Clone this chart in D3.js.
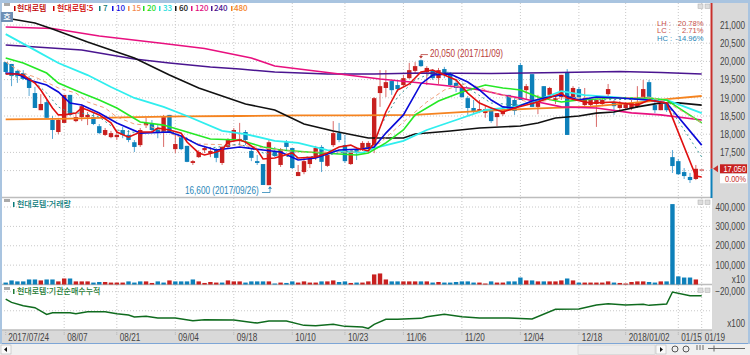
<!DOCTYPE html>
<html lang="ko">
<head>
<meta charset="utf-8">
<script src="https://d3js.org/d3.v7.min.js"></script>
<style>
  html, body { margin: 0; padding: 0; background: #f0f0f0; }
  svg { display: block; }
  text { font-family: "Liberation Sans", sans-serif; font-size: 10px; }
  .ko { font-family: "Noto Sans CJK KR", sans-serif; font-size: 8px; font-weight: 500; }
  .small { font-size: 7.6px; }
  .grid { stroke: #c8c8c8; stroke-width: 1; stroke-dasharray: 1 2; }
</style>
</head>
<body>
<div id="chart"></div>
<script>
// 가격 (일봉)
const opens = [19980,19930,19740,19680,19540,19130,18660,18880,18390,18060,
  18310,19080,18360,18470,18470,18470,18220,17980,17920,17920,
  18115,17980,17780,17700,18250,18280,18170,18060,18530,17590,
  17920,17680,17210,17370,17560,17480,17570,17210,17650,17870,
  17810,18060,17540,17260,17180,16600,17540,17155,17780,17620,
  16850,16960,17180,17350,17650,17130,17700,18030,17700,17180,
  17590,17565,17590,17700,19130,19270,19460,19350,19350,19540,
  19740,20030,19710,19740,19540,19790,19630,19410,19270,18990,
  18720,18610,18580,18690,18470,18550,19080,18940,19900,19210,
  19650,18750,19320,19080,18940,19020,19710,19020,19240,18800,
  18800,18830,18830,19100,18880,18720,18720,18720,18750,18990,
  19430,18800,18660,18830,17370,17260,16960,16825,16770,17030];
const highs = [19980,19930,19760,19760,19600,19300,19100,18940,18500,18450,
  19080,19080,18580,18830,18610,18610,18280,18170,18090,18115,
  18200,18115,17840,18170,18450,18390,18250,18530,18530,17980,
  17920,17680,17290,17560,17680,17650,17620,17680,17890,18170,
  18310,18115,17620,17430,17180,17840,17650,17620,17840,17620,
  17155,17350,17370,17680,17700,17510,18360,18310,17980,17560,
  17650,17810,17810,19020,19760,19760,19460,19460,19630,19960,
  19980,20050,19870,19790,19820,19850,19710,19520,19350,19050,
  18940,18940,18800,18750,18580,18720,19080,18990,19960,19380,
  19650,19080,19320,19300,19080,19630,19790,19320,19300,19270,
  18990,18940,18990,19380,18940,18910,18880,18940,19320,19490,
  19490,18880,18860,18860,17565,17320,17070,16935,17155,17030];
const lows = [19650,19320,19410,19490,19050,18720,18660,18450,17870,18000,
  18310,18500,18330,18360,18250,18250,18000,17950,17890,17840,
  17890,17780,17510,17650,18170,18030,17890,17650,18030,17480,
  17560,17230,17155,17350,17480,17370,17230,17155,17620,17780,
  17700,17700,17260,17155,16605,16600,17370,17100,17560,17040,
  16850,16900,17070,17290,16960,17100,17650,17780,17210,17155,
  17290,17540,17565,17480,18750,19020,19080,19160,19300,19520,
  19680,19850,19350,19490,19380,19540,19300,19160,18990,18530,
  18550,18580,18450,18310,18220,18500,18640,18530,18940,18940,
  18750,18550,18910,18940,18830,18940,17980,18940,18940,18750,
  18750,18200,18770,18990,18530,18660,18660,18660,18720,18970,
  18990,18580,18660,18610,16935,16880,16770,16660,16740,17030];
const closes = [19710,19600,19600,19520,19270,18720,18830,18450,18115,18390,
  19080,18530,18470,18770,18530,18280,18030,18115,18030,17980,
  17980,17840,17650,18115,18310,18115,18030,18470,18060,17730,
  17590,17240,17260,17510,17620,17540,17350,17650,17840,18115,
  17870,17840,17350,17210,16605,17780,17400,17590,17650,17070,
  16960,17260,17320,17620,17240,17430,18030,17840,17260,17540,
  17480,17760,17760,18990,19320,19430,19210,19240,19540,19760,
  19870,19870,19820,19540,19760,19680,19350,19270,19020,18720,
  18610,18690,18690,18360,18580,18660,18660,18640,18940,19320,
  18750,18940,18940,19270,18990,19630,17980,19270,19020,18990,
  18940,18940,18940,19240,18770,18830,18830,18860,18880,19240,
  18990,18660,18830,18660,17125,16900,16850,16740,17050,17030];

// 거래량
const volumes = [10000,21000,16000,16000,26000,26000,21000,26000,26000,16000,
  31000,31000,16000,16000,16000,10000,13000,13000,10000,10000,
  10000,16000,10000,16000,16000,8000,16000,10000,21000,16000,
  16000,16000,26000,16000,8000,13000,10000,10000,21000,16000,
  16000,10000,16000,16000,16000,16000,5000,10000,8000,16000,
  10000,16000,10000,10000,16000,16000,21000,13000,16000,8000,
  10000,10000,16000,52000,57000,26000,16000,16000,16000,16000,
  16000,16000,16000,10000,13000,10000,10000,13000,16000,16000,
  10000,10000,5000,16000,10000,10000,16000,16000,36000,21000,
  21000,16000,16000,16000,16000,21000,31000,21000,10000,10000,
  10000,10000,10000,16000,10000,8000,5000,13000,16000,16000,
  13000,10000,16000,16000,415000,42000,36000,36000,26000];
const volumeDirs = ("bbbbbbrbbr" + "rbrrrbbrrr" + "rbbbrrbbrb" + "bbbrrrrbrr" + "rbbbbrbrbb" + "rrrrbrrbbr" +
  "brrrrrbbrr" + "rbrbrbbbbb" + "brrbrrbbbr" + "brbrrrbrbr" + "rrrrbrrrrr" + "bbrbbbbbr").split("");

// 이동평균선 (그림에서 읽은 지점)
const ma5Days = [0,2,3,5,6,8,9,10,12,13,14,16,18,19,21,23,25,26,28,30,31,33,34,36,37,38,40,41,43,44,46,49,50,53,55,57,59,60,62,63,65,67,69,71,73,75,77,79,81,83,85,87,89,91,95,96,100,104,108,110,113,118,119];
const ma5 = [19655,19655,19625,19405,19215,18720,18530,18530,18580,18720,18665,18530,18310,18060,17920,18060,18060,18170,18115,18030,17785,17485,17430,17510,17565,17785,17840,17785,17565,17320,17345,17485,17345,17375,17485,17650,17700,17620,17540,17760,18610,19215,19380,19710,19765,19625,19490,19130,18855,18720,18610,18720,18800,18885,19130,18995,18855,18885,18800,18940,18855,16850,16825];
const ma7Days = [0,5,7,9,11,13,16,19,23,28,31,33,35,40,44,50,55,60,63,64,67,70,72,76,79,83,88,95,100,110,113,116,119];
const ma7 = [19655,19435,19130,18750,18580,18580,18470,18115,18030,18090,17895,17700,17620,17730,17485,17345,17430,17565,17700,18200,19020,19490,19625,19710,19270,18855,18800,19075,18940,18965,18855,18115,17375];
const ma10Days = [0,2,4,7,9,11,13,16,19,23,28,30,33,36,40,44,47,50,53,57,61,63,65,68,71,73,76,79,81,83,85,87,90,92,95,98,101,105,110,113,119];
const ma10 = [19680,19655,19490,19350,19160,18855,18800,18580,18310,18030,18060,17950,17700,17565,17650,17565,17510,17290,17345,17565,17595,17650,18030,18530,19380,19625,19655,19435,19215,18940,18750,18720,18910,18995,19075,18940,19020,18995,18940,18855,17700];
const ma15Days = [0,1,3,5,8,9,12,14,17,19,22,24,28,33,40,50,60,64,68,72,75,79,83,90,95,104,110,113,119];
const ma15 = [19985,19875,19680,19570,19350,19270,19130,18885,18720,18470,18280,18250,18030,17730,17700,17510,17510,17760,18335,18885,19215,19405,19160,18855,18995,18995,19020,18885,18310];
const ma20Days = [0,3,7,9,13,16,19,23,27,31,35,40,44,47,54,60,62,65,68,70,74,78,82,85,88,91,95,98,104,110,113,119];
const ma20 = [20095,19955,19680,19405,19130,18940,18720,18335,18250,18060,17870,17840,17650,17565,17485,17430,17485,17760,18115,18530,18910,19160,19350,19270,19215,19020,18885,18940,18995,18995,18940,18310];
const ma33Days = [0,5,9,14,18,22,27,31,37,41,46,50,55,61,63,68,72,77,82,87,91,95,99,104,110,113,119];
const ma33 = [20750,20310,19955,19625,19295,18995,18750,18500,18090,18005,17815,17760,17565,17485,17620,17815,18115,18390,18665,18750,18940,19185,19075,19020,18940,18940,18580];
const ma60Days = [0,2,5,8,14,22,28,33,41,46,51,56,62,65,68,70,76,81,88,91,94,98,101,104,108,112,115,119];
const ma60 = [21190,21135,21055,20890,20530,20095,19625,19270,18830,18665,18280,18090,17895,17895,17895,18005,18090,18170,18225,18310,18445,18500,18580,18610,18750,18860,18860,18800];
const ma120Days = [0,8,16,27,34,42,46,55,64,71,79,82,85,88,91,95,101,107,112,119];
const ma120 = [20945,20905,20700,20490,20355,20095,19875,19695,19515,19405,19270,19185,19075,18995,18885,18750,18720,18585,18530,18390];
const ma240Days = [0,13,22,28,35,40,46,55,63,71,83,95,105,112,119];
const ma240 = [20450,20310,20065,19955,19845,19790,19710,19655,19655,19680,19670,19695,19720,19695,19655];
const ma480Days = [0,9,20,30,40,50,60,70,80,90,100,110,113,119];
const ma480 = [18405,18420,18460,18490,18500,18515,18515,18530,18625,18705,18760,18900,18965,19050];

// 기관순매수누적
const instDays = [0,1,3,5,7,8,11,12,14,17,19,21,22,24,26,29,32,34,39,43,45,48,51,53,56,58,61,62,63,65,67,71,72,75,78,81,86,90,94,98,101,103,106,109,110,113,114,117,119];
const instNet = [-23850,-25600,-27350,-28400,-31900,-31025,-31025,-31550,-30500,-30500,-31550,-32250,-33300,-32950,-33825,-33825,-35225,-34700,-34875,-36450,-35400,-35400,-37675,-37850,-37150,-38200,-38550,-39250,-37150,-34525,-34525,-34000,-33125,-31900,-33125,-33825,-33825,-34350,-29275,-29100,-27000,-26300,-27000,-26650,-27175,-26475,-20175,-22100,-22100];

// 축
const priceGrid = [17000,17500,18000,18500,19000,19500,20000,20500,21000];
const priceTicks = [17500,18000,18500,19000,19500,20000,20500,21000];
const volumeTicks = [100000,200000,300000,400000];
const instTicks = [-20000];
const instGrid = [-20000,-30000];
const dateDays = [0,10,19,29,39,49,58,68,78,88,98,106,115,119];
const dateLabels = ["2017/07/24","08/07","08/21","09/04","09/18","10/10","10/23","11/06","11/20","12/04","12/18","2018/01/02","01/15","01/19"];

const W = 750, H = 355;
const RED = "#c8201f", BLUE = "#0d80ba";
const svg = d3.select("#chart").append("svg").attr("width", W).attr("height", H);

// 스케일
const x = d3.scaleLinear().domain([0, 119]).range([5.7, 701.7]);
const yPrice = d3.scaleLinear().domain([16500, 21000]).range([188.8, 25]);
const yVol = d3.scaleLinear().domain([0, 400000]).range([284.5, 207]);
const yInst = d3.scaleLinear().domain([-40000, -20000]).range([329.8, 291.7]);

// 바탕
svg.append("rect").attr("width", W).attr("height", H).attr("fill", "#f0f0f0");
svg.append("rect").attr("x", 0).attr("y", 0).attr("width", W).attr("height", 344).attr("fill", "#a9c4e0");
svg.append("rect").attr("x", 2).attr("y", 3).attr("width", 710).attr("height", 327).attr("fill", "#fff");
svg.append("rect").attr("x", 712).attr("y", 3).attr("width", 36).attr("height", 327).attr("fill", "#d9d9d9");
svg.append("rect").attr("x", 2).attr("y", 330).attr("width", 746).attr("height", 13).attr("fill", "#d9d9d9");

// 그리드
const plot = svg.append("g");
plot.selectAll(".gx").data(dateDays.slice(1)).enter().append("line").attr("class", "grid")
  .attr("x1", d => x(d)).attr("x2", d => x(d)).attr("y1", 3).attr("y2", 336);
plot.selectAll(".gp").data(priceGrid).enter().append("line").attr("class", "grid")
  .attr("x1", 4).attr("x2", 711).attr("y1", d => yPrice(d)).attr("y2", d => yPrice(d));
plot.selectAll(".gv").data(volumeTicks).enter().append("line").attr("class", "grid")
  .attr("x1", 4).attr("x2", 711).attr("y1", d => yVol(d)).attr("y2", d => yVol(d));
plot.selectAll(".gi").data(instGrid).enter().append("line").attr("class", "grid")
  .attr("x1", 4).attr("x2", 711).attr("y1", d => yInst(d)).attr("y2", d => yInst(d));

// 패널 구분선
[197.5, 284.5, 330].forEach(y => {
  svg.append("line").attr("x1", 2).attr("x2", 712).attr("y1", y).attr("y2", y)
    .attr("stroke", "#bdbdbd").attr("stroke-width", 1.5);
});

// 봉
const candles = svg.append("g");
opens.forEach((o, i) => {
  const c = closes[i], up = c >= o, col = up ? RED : BLUE;
  candles.append("line").attr("x1", x(i)).attr("x2", x(i))
    .attr("y1", yPrice(highs[i])).attr("y2", yPrice(lows[i]))
    .attr("stroke", up ? "#d96a68" : "#5aa8d4").attr("stroke-width", 1);
  candles.append("rect").attr("x", x(i) - 2.2).attr("width", 4.4)
    .attr("y", yPrice(Math.max(o, c)))
    .attr("height", Math.max(1, yPrice(Math.min(o, c)) - yPrice(Math.max(o, c))))
    .attr("fill", col);
});

// 이동평균선
const line = d3.line().x(d => x(d[0])).y(d => yPrice(d[1]));
function drawMa(days, vals, color, width, dash) {
  svg.append("path").datum(days.map((d, i) => [d, vals[i]]))
    .attr("d", line).attr("fill", "none").attr("stroke", color)
    .attr("stroke-width", width).attr("stroke-dasharray", dash || null);
}
drawMa(ma480Days, ma480, "#f5831f", 1.8);
drawMa(ma240Days, ma240, "#4a1590", 1.5);
drawMa(ma120Days, ma120, "#e8107f", 1.6);
drawMa(ma60Days, ma60, "#111", 1.6);
drawMa(ma33Days, ma33, "#30eeee", 1.8);
drawMa(ma20Days, ma20, "#25e825", 1.6);
drawMa(ma15Days, ma15, "#f2a07a", 1, "4 3");
drawMa(ma7Days, ma7, "#3a9a9a", 1, "2 3");
drawMa(ma10Days, ma10, "#0a0ad8", 1.6);
drawMa(ma5Days, ma5, "#e01010", 1.6);

// 거래량
svg.append("g").selectAll("rect").data(volumes).enter().append("rect")
  .attr("x", (d, i) => x(i) - 2.2).attr("width", 4.4)
  .attr("y", d => yVol(d)).attr("height", d => yVol(0) - yVol(d))
  .attr("fill", (d, i) => volumeDirs[i] === "r" ? RED : BLUE);

// 기관순매수누적
svg.append("path").datum(instDays.map((d, i) => [d, instNet[i]]))
  .attr("d", d3.line().x(d => x(d[0])).y(d => yInst(d[1])))
  .attr("fill", "none").attr("stroke", "#0f6b1e").attr("stroke-width", 1.5);

// 오른쪽 축
const fmt = d3.format(",");
function rightAxis(scale, ticks, format) {
  const g = svg.append("g").attr("transform", "translate(747,0)")
    .call(d3.axisLeft(scale).tickValues(ticks).tickSize(0).tickFormat(format).tickPadding(2));
  g.select(".domain").remove();
  g.selectAll("text").attr("fill", "#444").style("font-size", "10px").style("font-family", "Liberation Sans");
}
rightAxis(yPrice, priceTicks, fmt);
rightAxis(yVol, volumeTicks, fmt);
rightAxis(yInst, instTicks, fmt);
[["x10", 279.5], ["x100", 324]].forEach(d => {
  svg.append("text").attr("x", 745).attr("y", d[1]).attr("dy", "0.32em")
    .attr("text-anchor", "end").attr("fill", "#444").text(d[0]);
});

// 현재가 표시
svg.append("line").attr("x1", 711.5).attr("x2", 711.5).attr("y1", 3).attr("y2", yPrice(closes[118]))
  .attr("stroke", "#c8302c").attr("stroke-width", 2);
svg.append("line").attr("x1", 711.5).attr("x2", 711.5).attr("y1", yPrice(closes[118])).attr("y2", 198)
  .attr("stroke", BLUE).attr("stroke-width", 2);
const py = yPrice(closes[118]);
svg.append("path").attr("d", `M713,${py} l5,-3.5 v7 z`).attr("fill", "#c8302c");
svg.append("rect").attr("x", 720).attr("y", py - 4.5).attr("width", 27).attr("height", 9).attr("fill", "#c8201f");
svg.append("text").attr("x", 746).attr("y", py).attr("dy", "0.35em").attr("text-anchor", "end")
  .attr("fill", "#fff").style("font-size", "9px").text("17,050");
svg.append("rect").attr("x", 720).attr("y", py + 5).attr("width", 27).attr("height", 9.5).attr("fill", "#fff");
svg.append("text").attr("x", 746).attr("y", py + 10.2).attr("dy", "0.35em").attr("text-anchor", "end")
  .attr("fill", "#c8302c").style("font-size", "9px").text("0.00%");

// 날짜
const dates = svg.append("g");
dateDays.forEach((d, i) => {
  dates.append("line").attr("x1", x(d)).attr("x2", x(d)).attr("y1", 330).attr("y2", 336)
    .attr("stroke", "#bbb").attr("stroke-dasharray", "1 1");
  dates.append("text").attr("x", x(d) + (i === 0 ? 2.5 : 3)).attr("y", 337.5).attr("dy", "0.32em")
    .attr("fill", "#444").text(dateLabels[i]);
});

// 범례
const legend = [["현대로템", 17, "#c00000", 14], ["현대로템:5", 57, "#d00000", 53],
  ["7", 103, "#0a7a7a", 99], ["10", 116, "#1010e0", 112], ["15", 132, "#f58a50", 128],
  ["20", 147, "#22dd22", 143], ["33", 163, "#22dddd", 159], ["60", 179, "#111", 175],
  ["120", 195, "#e0107f", 191], ["240", 214, "#4a1590", 211], ["480", 234, "#f5831f", 231]];
legend.forEach(d => {
  svg.append("rect").attr("x", d[3]).attr("y", 6).attr("width", 1.5).attr("height", 5).attr("fill", d[2]);
  svg.append("text").attr("class", "ko").attr("x", d[1]).attr("y", 8.5).attr("dy", "0.35em")
    .attr("fill", d[2]).text(d[0]);
});
[["현대로템:거래량", 204.5, "#0a7a7a"], ["현대로템:기관순매수누적", 291.5, "#1e7b34"]].forEach(d => {
  svg.append("rect").attr("x", 13).attr("y", d[1] - 2.5).attr("width", 1.5).attr("height", 5).attr("fill", d[2]);
  svg.append("text").attr("class", "ko").attr("x", 17).attr("y", d[1]).attr("dy", "0.35em")
    .attr("fill", d[2]).text(d[0]);
});

// 호 버튼, 창 버튼
svg.append("rect").attr("x", 1).attr("y", 12).attr("width", 12).attr("height", 10).attr("fill", "#6e8fb5");
svg.append("text").attr("class", "ko").attr("x", 7).attr("y", 17).attr("dy", "0.35em")
  .attr("text-anchor", "middle").attr("fill", "#fff").text("호");
[4, 200, 288].forEach(y => {
  svg.append("rect").attr("x", 4).attr("y", y - 1).attr("width", 6).attr("height", 3).attr("fill", "#aaa");
  [698, 705].forEach(bx => {
    svg.append("rect").attr("x", bx).attr("y", y).attr("width", 5).attr("height", 4.5)
      .attr("fill", "#ddd").attr("stroke", "#aaa").attr("stroke-width", 0.5);
  });
});

// 최고, 최저 표시
const hi = 71, lo = 45;
svg.append("path").attr("d", `M${x(hi)},${yPrice(highs[hi]) - 2} v-3 h7`).attr("fill", "none")
  .attr("stroke", "#b9403a").attr("stroke-width", 0.8);
svg.append("path").attr("d", `M${x(hi)},${yPrice(highs[hi]) - 1} l-2,-2.5 h4 z`).attr("fill", "#b9403a");
svg.append("text").attr("x", 430).attr("y", 53.5).attr("dy", "0.35em").attr("fill", "#b9403a")
  .text("20,050 (2017/11/09)");
svg.append("path").attr("d", `M262,192.5 h8 v-4`).attr("fill", "none")
  .attr("stroke", "#2a86b8").attr("stroke-width", 0.8);
svg.append("path").attr("d", `M270,${yPrice(lows[lo]) + 1} l-2,2.5 h4 z`).attr("fill", "#2a86b8");
svg.append("text").attr("x", 185).attr("y", 190.5).attr("dy", "0.35em").attr("fill", "#2a86b8")
  .text("16,600 (2017/09/26)");

// LH LC HC
[["LH :", "20.78%", 23, "#c8504a"], ["LC :", "2.71%", 30.8, "#c8504a"], ["HC :", "-14.96%", 38.6, "#2a86b8"]].forEach(d => {
  svg.append("text").attr("class", "small").attr("x", 657).attr("y", d[2]).attr("dy", "0.35em").attr("fill", d[3]).text(d[0]);
  svg.append("text").attr("class", "small").attr("x", 703.5).attr("y", d[2]).attr("dy", "0.35em").attr("text-anchor", "end").attr("fill", d[3]).text(d[1]);
});

// 아래 스크롤 막대
svg.append("rect").attr("x", 2).attr("y", 343).attr("width", 746).attr("height", 1).attr("fill", "#7ea6d6");
svg.append("rect").attr("x", 1).attr("y", 345).attr("width", 10).attr("height", 9).attr("fill", "#fafafa").attr("stroke", "#aaa").attr("stroke-width", 0.5);
svg.append("path").attr("d", "M4,349.5 l3,-2.5 v5 z").attr("fill", "#111");
svg.append("rect").attr("x", 578).attr("y", 345).attr("width", 77).attr("height", 9.5).attr("fill", "#ececec").attr("stroke", "#c8c8c8").attr("stroke-width", 0.5);
svg.append("rect").attr("x", 656).attr("y", 345).attr("width", 10).attr("height", 9).attr("fill", "#fafafa").attr("stroke", "#aaa").attr("stroke-width", 0.5);
svg.append("path").attr("d", "M663,349.5 l-3,-2.5 v5 z").attr("fill", "#111");
[675, 686].forEach(cx => {
  svg.append("circle").attr("cx", cx).attr("cy", 349).attr("r", 3).attr("fill", "none").attr("stroke", "#555");
});
svg.append("path").attr("d", "M697,345 v5 M700,345 v5 M703,345 v5 M708,348.5 H745 M714,345.5 v6").attr("stroke", "#666").attr("fill", "none");

// 숫자 글자를 좁게 (원본은 폭이 좁은 글꼴)
svg.selectAll("text").filter(function () {
  return !this.classList.contains("ko") && !this.classList.contains("small");
}).each(function () {
  const tx = +this.getAttribute("x") || 0;
  d3.select(this).attr("transform", `translate(${tx},0) scale(0.82,1) translate(${-tx},0)`);
});
</script>
</body>
</html>
